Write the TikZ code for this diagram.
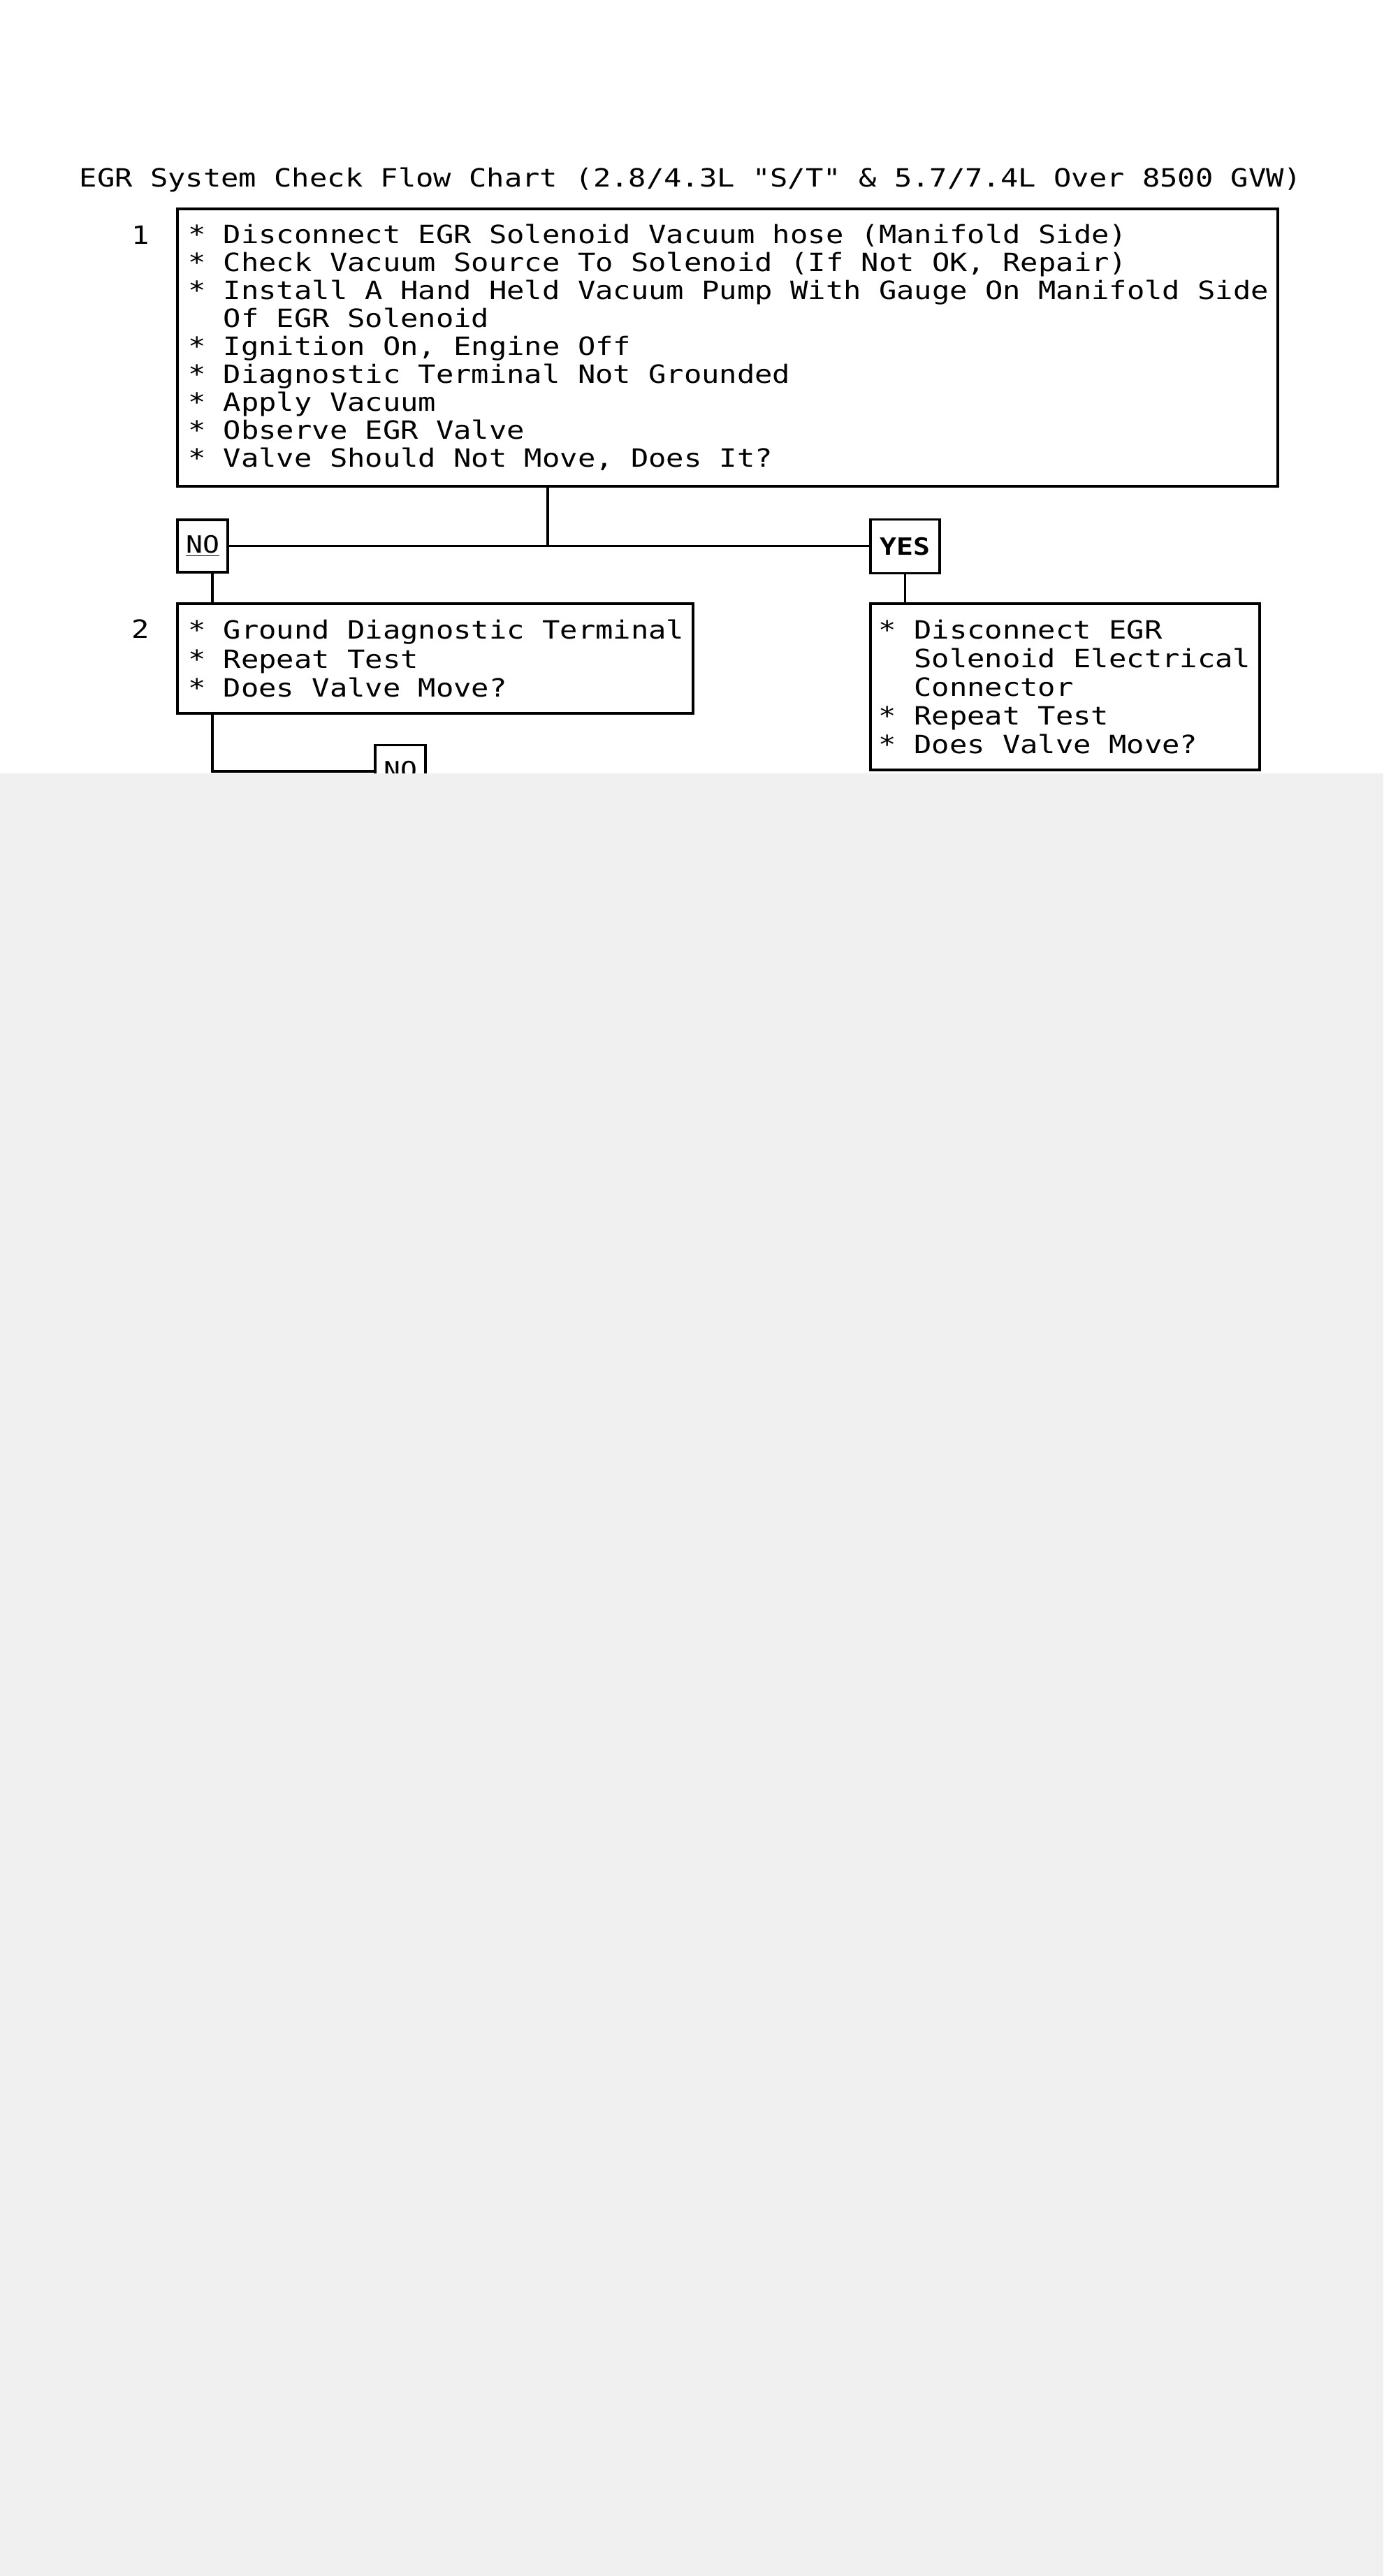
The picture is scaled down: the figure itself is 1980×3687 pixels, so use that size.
\documentclass[tikz,border=0pt]{standalone}
\usepackage{fontspec}
\newfontfamily\chartfont{DejaVu Sans Mono}[FakeStretch=1.17, Ligatures=TeXOff]
\newcommand{\contind}{\hphantom{*\ }}

\begin{document}
\begin{tikzpicture}[x=0.5pt, y=-0.5pt, line width=1.7pt,
  stepbox/.style={draw, anchor=north west, outer sep=0pt, inner sep=0pt},
  steptext/.style={anchor=west, align=left, inner sep=0pt, font=\chartfont\fontsize{18pt}{#1}\selectfont},
  steptext/.default=20pt,
  chartlabel/.style={inner sep=0pt, font=\chartfont\fontsize{18pt}{20pt}\selectfont},
  answer/.style={draw, outer sep=0pt, inner sep=0pt, minimum width=36pt, minimum height=37.5pt, font=\chartfont\fontsize{17pt}{17pt}\selectfont}]
\useasboundingbox (0,0) rectangle (1980,3687);

\node[chartlabel, anchor=base west] (title) at (112,268) {EGR System Check Flow Chart (2.8/4.3L "S/T" \& 5.7/7.4L Over 8500 GVW)};

% step 1
\node[stepbox, minimum width=787.5pt, minimum height=198.5pt] (box1) at (254,299) {};
\node[steptext] (text1) at ([xshift=6.75pt]box1.west) {* Disconnect EGR Solenoid Vacuum hose (Manifold Side)\\
* Check Vacuum Source To Solenoid (If Not OK, Repair)\\
* Install A Hand Held Vacuum Pump With Gauge On Manifold Side\\
\contind Of EGR Solenoid\\
* Ignition On, Engine Off\\
* Diagnostic Terminal Not Grounded\\
* Apply Vacuum\\
* Observe EGR Valve\\
* Valve Should Not Move, Does It?};
\node[chartlabel, anchor=base] (num1) at (201,350) {1};

\node[answer] (no1) at (290,781.5) {\underline{NO}};
\node[answer, minimum width=49.5pt, minimum height=38.5pt] (yes1) at (1295.5,782) {\bfseries YES};
\coordinate (split) at (784,781.5);
\draw (box1.south -| split) -- (split);
\draw (no1) -- (no1 -| yes1.west);

% step 2
\node[stepbox, minimum width=369pt, minimum height=78.5pt] (box2) at (254,864) {};
\node[steptext=20.6pt] (text2) at ([xshift=6.75pt]box2.west) {* Ground Diagnostic Terminal\\
* Repeat Test\\
* Does Valve Move?};
\node[chartlabel, anchor=base] (num2) at (201,913) {2};
\coordinate (stem2) at ([xshift=25pt]box2.north west);
\draw (no1.south -| stem2) -- (stem2);

\node[stepbox, minimum width=278.5pt, minimum height=119pt] (box3) at (1246,864) {};
\node[steptext=20.6pt] (text3) at ([xshift=5pt]box3.west) {* Disconnect EGR\\
\contind Solenoid Electrical\\
\contind Connector\\
* Repeat Test\\
* Does Valve Move?};
\draw (yes1.south) -- (yes1.south |- box3.north);

\node[answer] (no2) at (573,1104) {\underline{NO}};
\draw ([xshift=25pt]box2.south west) |- (no2.west);

% obscured part of the chart
\fill[black!6] (0,1107) rectangle (1980,3687);
\end{tikzpicture}
\end{document}
